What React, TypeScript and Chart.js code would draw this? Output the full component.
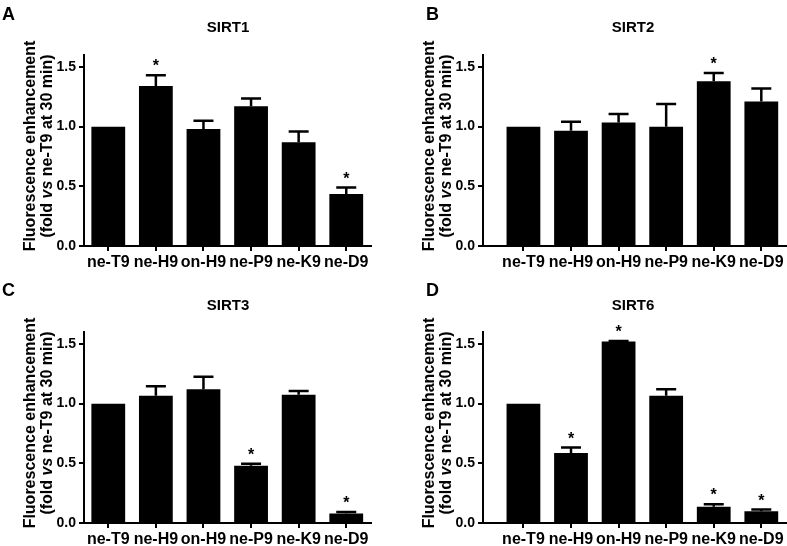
import React, { useEffect, useRef } from 'react';
import { Chart, registerables } from 'chart.js';
Chart.register(...registerables);

const categories = ['ne-T9', 'ne-H9', 'on-H9', 'ne-P9', 'ne-K9', 'ne-D9'];
const yTickValues = [0, 0.5, 1.0, 1.5];

const sirt1Values = [1.0, 1.34, 0.98, 1.17, 0.87, 0.435];
const sirt1Errors = [0, 0.09, 0.07, 0.065, 0.09, 0.055];
const sirt1Stars = [0, 1, 0, 0, 0, 1];

const sirt2Values = [1.0, 0.965, 1.035, 1.0, 1.38, 1.21];
const sirt2Errors = [0, 0.075, 0.07, 0.19, 0.07, 0.11];
const sirt2Stars = [0, 0, 0, 0, 1, 0];

const sirt3Values = [1.0, 1.065, 1.12, 0.48, 1.075, 0.08];
const sirt3Errors = [0, 0.08, 0.105, 0.017, 0.03, 0.013];
const sirt3Stars = [0, 0, 0, 1, 0, 1];

const sirt6Values = [1.0, 0.587, 1.52, 1.065, 0.136, 0.098];
const sirt6Errors = [0, 0.045, 0.005, 0.055, 0.022, 0.015];
const sirt6Stars = [0, 1, 1, 0, 1, 1];

const W = 787;
const H = 546;
const FONT = '"Liberation Sans", Arial, Helvetica, sans-serif';

type Panel = {
  letter: string; title: string;
  values: number[]; errors: number[]; stars: number[];
  plotLeft: number; plotRight: number; plotTop: number; plotBottom: number;
  xMin: number; xMax: number;
  letterX: number; letterY: number; titleX: number; titleY: number;
  yt1X: number; yt2X: number; ytY: number;
};

const panels: Panel[] = [
  { letter: 'A', title: 'SIRT1', values: sirt1Values, errors: sirt1Errors, stars: sirt1Stars,
    plotLeft: 84, plotRight: 371, plotTop: 55, plotBottom: 246, xMin: -0.51, xMax: 5.52,
    letterX: 2, letterY: 20, titleX: 228, titleY: 32, yt1X: 35, yt2X: 52, ytY: 146 },
  { letter: 'B', title: 'SIRT2', values: sirt2Values, errors: sirt2Errors, stars: sirt2Stars,
    plotLeft: 483, plotRight: 787, plotTop: 55, plotBottom: 246, xMin: -0.85, xMax: 5.54,
    letterX: 426, letterY: 20, titleX: 633, titleY: 32, yt1X: 434, yt2X: 451, ytY: 146 },
  { letter: 'C', title: 'SIRT3', values: sirt3Values, errors: sirt3Errors, stars: sirt3Stars,
    plotLeft: 84, plotRight: 371, plotTop: 332, plotBottom: 523, xMin: -0.51, xMax: 5.52,
    letterX: 2, letterY: 296, titleX: 228, titleY: 310, yt1X: 35, yt2X: 52, ytY: 423 },
  { letter: 'D', title: 'SIRT6', values: sirt6Values, errors: sirt6Errors, stars: sirt6Stars,
    plotLeft: 483, plotRight: 787, plotTop: 332, plotBottom: 523, xMin: -0.85, xMax: 5.54,
    letterX: 426, letterY: 296, titleX: 633, titleY: 310, yt1X: 434, yt2X: 451, ytY: 423 },
];

function makePlugin(p: Panel) {
  return {
    id: 'annot' + p.letter,
    afterDatasetsDraw(chart: any) {
      const ctx = chart.ctx;
      const xs = chart.scales.x;
      const ys = chart.scales.y;
      ctx.save();
      ctx.strokeStyle = '#000';
      ctx.fillStyle = '#000';
      ctx.lineWidth = 2.5;
      p.values.forEach((v, i) => {
        const e = p.errors[i];
        const x = xs.getPixelForValue(i);
        const yTop = ys.getPixelForValue(v);
        const yCap = ys.getPixelForValue(v + e);
        if (e > 0) {
          ctx.beginPath();
          ctx.moveTo(x, yTop);
          ctx.lineTo(x, yCap);
          ctx.moveTo(x - 10, yCap);
          ctx.lineTo(x + 10, yCap);
          ctx.stroke();
        }
        if (p.stars[i]) {
          ctx.font = `bold 16px ${FONT}`;
          ctx.textAlign = 'center';
          ctx.textBaseline = 'alphabetic';
          ctx.fillText('*', x, yCap - 4);
        }
      });
      ctx.restore();
    },
    afterDraw(chart: any) {
      const ctx = chart.ctx;
      ctx.save();
      ctx.fillStyle = '#000';
      ctx.textBaseline = 'alphabetic';
      ctx.textAlign = 'left';
      ctx.font = `bold 18px ${FONT}`;
      ctx.fillText(p.letter, p.letterX, p.letterY);
      ctx.textAlign = 'center';
      ctx.font = `bold 15px ${FONT}`;
      ctx.fillText(p.title, p.titleX, p.titleY);
      // y title line 1
      ctx.save();
      ctx.translate(p.yt1X, p.ytY);
      ctx.rotate(-Math.PI / 2);
      ctx.textAlign = 'center';
      ctx.font = `bold 16px ${FONT}`;
      ctx.fillText('Fluorescence enhancement', 0, 0);
      ctx.restore();
      // y title line 2 with italic "vs"
      const parts = [
        { t: '(fold ', it: false },
        { t: 'vs', it: true },
        { t: ' ne-T9 at 30 min)', it: false },
      ];
      const fontOf = (it: boolean) => `${it ? 'italic ' : ''}bold 16px ${FONT}`;
      let total = 0;
      parts.forEach((pt) => { ctx.font = fontOf(pt.it); total += ctx.measureText(pt.t).width; });
      ctx.save();
      ctx.translate(p.yt2X, p.ytY);
      ctx.rotate(-Math.PI / 2);
      ctx.textAlign = 'left';
      let cx = -total / 2;
      parts.forEach((pt) => {
        ctx.font = fontOf(pt.it);
        ctx.fillText(pt.t, cx, 0);
        cx += ctx.measureText(pt.t).width;
      });
      ctx.restore();
      ctx.restore();
    },
  };
}

function PanelChart({ p }: { p: Panel }) {
  const ref = useRef<HTMLCanvasElement>(null);
  useEffect(() => {
    if (!ref.current) return;
    const tickFont = { family: FONT, size: 16, weight: 'bold' as const };
    const chart = new Chart(ref.current, {
      type: 'bar',
      data: {
        datasets: [{
          data: p.values.map((v, i) => ({ x: i, y: v })),
          backgroundColor: '#000',
          borderWidth: 0,
          barPercentage: 0.71,
          categoryPercentage: 1,
        }],
      },
      options: {
        animation: false,
        responsive: false,
        maintainAspectRatio: false,
        events: [],
        layout: { padding: { left: 0, top: p.plotTop, right: W - p.plotRight, bottom: 0 } },
        plugins: { legend: { display: false }, tooltip: { enabled: false }, title: { display: false } },
        scales: {
          x: {
            type: 'linear',
            min: p.xMin,
            max: p.xMax,
            offset: false,
            afterBuildTicks: (s: any) => { s.ticks = categories.map((_, i) => ({ value: i })); },
            afterFit: (s: any) => { s.height = H - p.plotBottom; },
            ticks: {
              callback: (v: any) => categories[Math.round(Number(v))] ?? '',
              font: tickFont,
              color: '#000',
              padding: 2,
              maxRotation: 0,
              autoSkip: false,
            },
            grid: { drawOnChartArea: false, drawTicks: true, tickLength: 5, color: '#000', lineWidth: 2, offset: false },
            border: { display: true, color: '#000', width: 2 },
          },
          y: {
            min: 0,
            max: 1.6,
            afterBuildTicks: (s: any) => { s.ticks = yTickValues.map((v) => ({ value: v })); },
            afterFit: (s: any) => { s.width = p.plotLeft; },
            ticks: {
              callback: (v: any) => Number(v).toFixed(1),
              font: { family: FONT, size: 14, weight: 'bold' as const },
              color: '#000',
              padding: 3,
            },
            grid: { drawOnChartArea: false, drawTicks: true, tickLength: 5, color: '#000', lineWidth: 2 },
            border: { display: true, color: '#000', width: 2 },
          },
        },
      } as any,
      plugins: [makePlugin(p)],
    });
    return () => chart.destroy();
  }, [p]);
  return (
    <canvas
      ref={ref}
      width={W}
      height={H}
      style={{ position: 'absolute', left: 0, top: 0, width: W, height: H }}
    />
  );
}

export default function App() {
  return (
    <div style={{ position: 'fixed', left: 0, top: 0, width: W, height: H, overflow: 'hidden', background: '#fff' }}>
      {panels.map((p) => <PanelChart key={p.letter} p={p} />)}
    </div>
  );
}
